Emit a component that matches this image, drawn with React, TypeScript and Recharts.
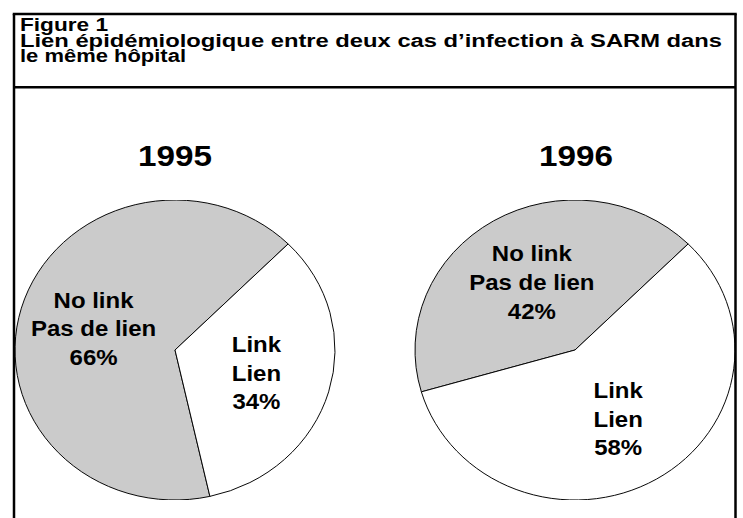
import React from 'react';
import { PieChart, Pie, Cell } from 'recharts';

const categories = ['No link', 'Link'];
const frenchLabels = ['Pas de lien', 'Lien'];
const years = ['1995', '1996'];
const values1995 = [66, 34];
const values1996 = [42, 58];
const seriesByYear = [values1995, values1996];

const titleLines = [
  'Figure 1',
  'Lien épidémiologique entre deux cas d’infection à SARM dans',
  'le même hôpital',
];

const FONT = '"Liberation Sans", Arial, Helvetica, sans-serif';
const SLICE_COLORS = ['#cbcbcb', '#ffffff'];
const RADIAN = Math.PI / 180;

// the scanned figure is squashed vertically, pies are ellipses
const SQUASH = 0.9375;

function renderLabel(props: any) {
  const { cx, cy, midAngle, outerRadius, index, value } = props;
  const r = outerRadius * 0.53;
  const x = cx + r * Math.cos(-midAngle * RADIAN);
  const y = cy + r * Math.sin(-midAngle * RADIAN);
  const lines = [categories[index], frenchLabels[index], `${value}%`];
  return (
    <text
      x={x}
      y={y - 30.5 + 9}
      textAnchor="middle"
      fontFamily={FONT}
      fontWeight="bold"
      fontSize={24}
      fill="#000"
    >
      {lines.map((l, i) => (
        <tspan key={i} x={x} dy={i === 0 ? 0 : 30.5}>
          {l}
        </tspan>
      ))}
    </text>
  );
}

function YearPie({ values, left }: { values: number[]; left: number }) {
  const data = categories.map((c, i) => ({ name: c, value: values[i] }));
  return (
    <div
      style={{
        position: 'absolute',
        left,
        top: 189.5,
        width: 350,
        height: 320,
        transform: `scaleY(${SQUASH})`,
        transformOrigin: 'center center',
      }}
    >
      <PieChart width={350} height={320} margin={{ top: 0, right: 0, bottom: 0, left: 0 }}>
        <Pie
          data={data}
          dataKey="value"
          cx={175}
          cy={160}
          outerRadius={160}
          startAngle={45}
          endAngle={405}
          stroke="#000"
          strokeWidth={1}
          label={renderLabel}
          labelLine={false}
          isAnimationActive={false}
        >
          {data.map((d, i) => (
            <Cell key={d.name} fill={SLICE_COLORS[i]} />
          ))}
        </Pie>
      </PieChart>
    </div>
  );
}

export default function App() {
  const titleWidths = [88, 702, 166];
  const yearX = [175, 576];
  return (
    <div
      style={{
        position: 'absolute',
        left: 0,
        top: 0,
        width: 743,
        height: 518,
        background: '#fff',
        overflow: 'hidden',
      }}
    >
      <YearPie values={seriesByYear[0]} left={-0.5} />
      <YearPie values={seriesByYear[1]} left={400} />
      <svg
        width={743}
        height={518}
        style={{ position: 'absolute', left: 0, top: 0, pointerEvents: 'none' }}
      >
        <g stroke="#000" strokeWidth={2.5} fill="none">
          <line x1={14} y1={14} x2={14} y2={518} />
          <line x1={735.5} y1={14} x2={735.5} y2={518} />
          <line x1={12.75} y1={14} x2={736.75} y2={14} />
          <line x1={14} y1={87.2} x2={735.5} y2={87.2} />
        </g>
        {titleLines.map((t, i) => (
          <text
            key={i}
            x={20}
            y={31 + i * 15.5}
            fontFamily={FONT}
            fontWeight="bold"
            fontSize={17.5}
            textLength={titleWidths[i]}
            lengthAdjust="spacingAndGlyphs"
            fill="#000"
          >
            {t}
          </text>
        ))}
        {years.map((y, i) => (
          <text
            key={y}
            x={yearX[i]}
            y={166}
            textAnchor="middle"
            fontFamily={FONT}
            fontWeight="bold"
            fontSize={30}
            textLength={74}
            lengthAdjust="spacingAndGlyphs"
            fill="#000"
          >
            {y}
          </text>
        ))}
      </svg>
    </div>
  );
}
